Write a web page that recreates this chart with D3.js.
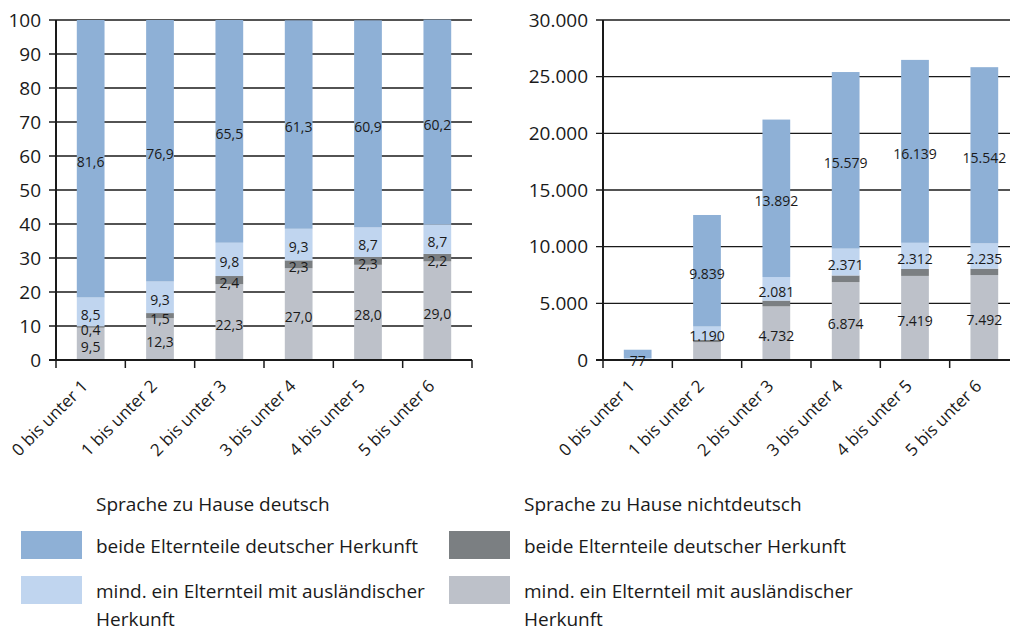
<!DOCTYPE html>
<html>
<head>
<meta charset="utf-8">
<script src="https://cdn.jsdelivr.net/npm/d3@7"></script>
<style>
  body { margin: 0; background: #fff; }
  text { font-family: "Open Sans", sans-serif; fill: #1a1a1a; }
</style>
</head>
<body>
<svg width="1010" height="630"></svg>
<script>
const categories = ['0 bis unter 1', '1 bis unter 2', '2 bis unter 3', '3 bis unter 4', '4 bis unter 5', '5 bis unter 6'];

// left panel: shares in %
const pctNdAusl = [9.5, 12.3, 22.3, 27.0, 28.0, 29.0];
const pctNdDt = [0.4, 1.5, 2.4, 2.3, 2.3, 2.2];
const pctDAusl = [8.5, 9.3, 9.8, 9.3, 8.7, 8.7];
const pctDDt = [81.6, 76.9, 65.5, 61.3, 60.9, 60.2];

// right panel: absolute counts
const absNdAusl = [86, 1574, 4732, 6874, 7419, 7492];
const absNdDt = [4, 192, 509, 585, 610, 568];
const absDAusl = [77, 1190, 2081, 2371, 2312, 2235];
const absDDt = [739, 9839, 13892, 15579, 16139, 15542];
// which counts carry a label in the original
const absShowNdAusl = [false, false, true, true, true, true];
const absShowNdDt = [false, false, false, false, false, false];
const absShowDAusl = [true, true, true, true, true, true];
const absShowDDt = [false, true, true, true, true, true];

const pctTicks = [0, 10, 20, 30, 40, 50, 60, 70, 80, 90, 100];
const absTicks = [0, 5000, 10000, 15000, 20000, 25000, 30000];

const keys = ['ndAusl', 'ndDt', 'dAusl', 'dDt'];
const colors = { dDt: '#8eb0d6', dAusl: '#c0d5ef', ndDt: '#7b7f82', ndAusl: '#bdc1c9' };

const de = d3.formatLocale({ decimal: ',', thousands: '.', grouping: [3], currency: ['', ' €'] });

const svg = d3.select('svg');

function drawPanel(p) {
    const rows = categories.map((c, i) => ({
        cat: c,
        ndAusl: p.data[0][i], ndDt: p.data[1][i], dAusl: p.data[2][i], dDt: p.data[3][i]
    }));
    const stacked = d3.stack().keys(keys)(rows);

    const x = d3.scaleBand()
        .domain(categories)
        .range([p.left, p.right])
        .paddingInner(0.6)
        .paddingOuter(0.3);
    const y = d3.scaleLinear()
        .domain([0, p.ticks[p.ticks.length - 1]])
        .range([360, 20]);

    const g = svg.append('g');

    // grid lines incl. left tick
    g.selectAll('.grid')
        .data(p.ticks.slice(1))
        .enter()
        .append('line')
        .attr('x1', p.left - 7)
        .attr('x2', p.right)
        .attr('y1', d => y(d))
        .attr('y2', d => y(d))
        .attr('stroke', '#1a1a1a')
        .attr('stroke-width', 1.3);

    g.selectAll('.layer')
        .data(stacked)
        .enter()
        .append('g')
        .attr('fill', d => colors[d.key])
        .selectAll('rect')
        .data(d => d)
        .enter()
        .append('rect')
        .attr('x', d => x(d.data.cat))
        .attr('width', x.bandwidth())
        .attr('y', d => y(d[1]))
        .attr('height', d => y(d[0]) - y(d[1]));

    // axes
    g.append('line')
        .attr('x1', p.left).attr('x2', p.left)
        .attr('y1', 20).attr('y2', 361)
        .attr('stroke', '#1a1a1a').attr('stroke-width', 2);
    g.append('line')
        .attr('x1', p.left - 7).attr('x2', p.right)
        .attr('y1', 360).attr('y2', 360)
        .attr('stroke', '#1a1a1a').attr('stroke-width', 2.2);

    // ticks between the categories
    g.selectAll('.xtick')
        .data(d3.range(categories.length + 1))
        .enter()
        .append('line')
        .attr('x1', i => p.left + i * x.step())
        .attr('x2', i => p.left + i * x.step())
        .attr('y1', 360)
        .attr('y2', 368)
        .attr('stroke', '#1a1a1a')
        .attr('stroke-width', 1.5);

    g.selectAll('.ylab')
        .data(p.ticks)
        .enter()
        .append('text')
        .attr('x', p.left - 15)
        .attr('y', d => y(d))
        .attr('dy', '0.35em')
        .style('text-anchor', 'end')
        .style('font-size', '19px')
        .text(d => de.format(',')(d));

    g.selectAll('.xlab')
        .data(categories)
        .enter()
        .append('text')
        .attr('transform', d => `translate(${x(d) + x.bandwidth() / 2 - 9}, 380) rotate(-45)`)
        .style('text-anchor', 'end')
        .style('font-size', '17px')
        .attr('dy', '0.6em')
        .text(d => d);

    // value labels
    stacked.forEach((layer, li) => {
        g.selectAll('.vl' + li)
            .data(layer.filter((d, i) => p.show[li][i]))
            .enter()
            .append('text')
            .attr('x', d => x(d.data.cat) + x.bandwidth() / 2)
            .attr('y', d => (y(d[0]) + y(d[1])) / 2 + 3)
            .attr('dy', '0.35em')
            .style('text-anchor', 'middle')
            .style('font-size', '14px')
            .text(d => p.fmt(d.data[layer.key]));
    });
}

const allTrue = categories.map(() => true);

drawPanel({
    left: 56, right: 472,
    ticks: pctTicks,
    data: [pctNdAusl, pctNdDt, pctDAusl, pctDDt],
    show: [allTrue, allTrue, allTrue, allTrue],
    fmt: de.format('.1f')
});

drawPanel({
    left: 603, right: 1019,
    ticks: absTicks,
    data: [absNdAusl, absNdDt, absDAusl, absDDt],
    show: [absShowNdAusl, absShowNdDt, absShowDAusl, absShowDDt],
    fmt: de.format(',')
});

// legend
const legendCols = [
    { x: 21, title: 'Sprache zu Hause deutsch', items: [['dDt', ['beide Elternteile deutscher Herkunft']], ['dAusl', ['mind. ein Elternteil mit ausländischer', 'Herkunft']]] },
    { x: 449, title: 'Sprache zu Hause nichtdeutsch', items: [['ndDt', ['beide Elternteile deutscher Herkunft']], ['ndAusl', ['mind. ein Elternteil mit ausländischer', 'Herkunft']]] }
];

legendCols.forEach(col => {
    const lg = svg.append('g');
    lg.append('text')
        .attr('x', col.x + 75)
        .attr('y', 511)
        .style('font-size', '19px')
        .text(col.title);
    col.items.forEach((it, i) => {
        const top = 531 + i * 45;
        lg.append('rect')
            .attr('x', col.x)
            .attr('y', top)
            .attr('width', 61)
            .attr('height', 28)
            .attr('fill', colors[it[0]]);
        it[1].forEach((line, j) => {
            lg.append('text')
                .attr('x', col.x + 75)
                .attr('y', top + 22 + j * 28)
                .style('font-size', '19px')
                .text(line);
        });
    });
});
</script>
</body>
</html>
